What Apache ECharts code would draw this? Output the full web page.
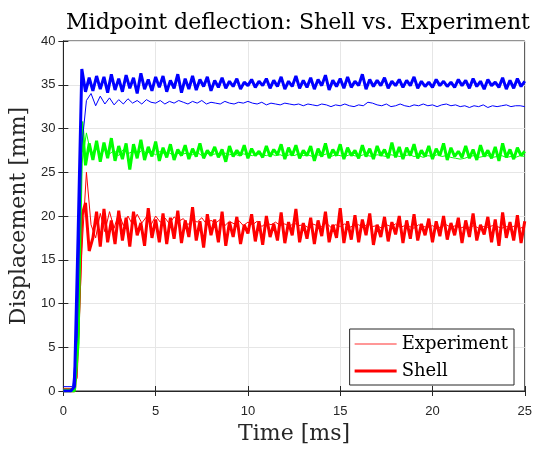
<!DOCTYPE html>
<html>
<head>
<meta charset="utf-8">
<script src="https://cdn.jsdelivr.net/npm/echarts@6/dist/echarts.min.js"></script>
<style>
  html, body { margin: 0; padding: 0; background: #fff; }
  #chart { width: 535px; height: 450px; }
</style>
</head>
<body>
<div id="chart"></div>
<script>
// sample spacing of the traces (ms)
const shellStep = 0.2
const expStep = 0.25

// Shell traces, one value every 0.2 ms from t = 0
const redShell = [0, 0, 0, 0, 7, 20, 21.5, 16, 17.5, 20.5,
  16.5, 20.8, 17, 19.5, 16.8, 20.6, 17.2, 19.8, 16.5, 20.5,
  17.8, 19.2, 16.6, 20.9, 17.5, 19.6, 17.0, 20.3, 16.8, 19.8,
  17.4, 20.6, 16.9, 19.5, 17.6, 21.0, 17.2, 19.4, 16.4, 20.2,
  17.8, 19.6, 17.0, 20.5, 16.6, 19.3, 17.6, 19.9, 16.8, 19.0,
  18.0, 20.2, 17.1, 19.4, 16.7, 20.0, 17.6, 19.1, 17.2, 20.4,
  16.9, 19.3, 17.8, 20.8, 17.0, 19.2, 17.4, 19.8, 16.8, 19.5,
  17.7, 20.5, 17.0, 19.0, 17.5, 20.9, 16.9, 19.4, 17.3, 20.1,
  17.0, 19.6, 17.8, 20.3, 16.7, 19.0, 17.6, 19.9, 17.1, 19.3,
  17.9, 20.0, 16.9, 19.5, 17.4, 20.2, 17.2, 19.1, 17.8, 19.7,
  17.0, 19.4, 17.7, 20.0, 17.3, 19.2, 17.8, 19.8, 16.9, 19.5,
  17.6, 20.3, 17.2, 19.0, 17.9, 19.9, 17.0, 19.6, 16.6, 20.4,
  17.5, 19.3, 17.2, 20.1, 16.9, 19.4]
const greenShell = [0, 0, 0, 0, 5.5, 30.8, 25.8, 28.3, 26.4, 28.6,
  26.2, 28.4, 26.6, 28.9, 26.3, 28.0, 26.5, 28.3, 25.3, 28.2,
  26.6, 28.7, 26.4, 27.9, 26.8, 28.5, 26.3, 27.8, 26.7, 28.2,
  26.4, 27.6, 26.9, 28.1, 26.5, 27.7, 26.8, 28.3, 26.6, 27.5,
  26.9, 27.9, 26.7, 27.6, 26.2, 28.0, 26.8, 27.5, 26.9, 28.1,
  26.6, 27.7, 26.9, 27.4, 26.7, 28.0, 26.8, 27.6, 27.0, 28.2,
  26.5, 27.8, 26.9, 28.1, 26.6, 27.5, 26.9, 28.0, 26.3, 27.7,
  26.8, 28.3, 26.6, 27.6, 26.9, 28.2, 26.5, 27.8, 26.9, 27.5,
  26.6, 28.1, 26.8, 27.7, 26.5, 28.0, 26.9, 27.6, 26.6, 28.4,
  26.7, 27.9, 26.5, 27.8, 26.9, 28.2, 26.6, 27.5, 26.8, 28.0,
  26.5, 27.7, 26.9, 28.3, 26.4, 27.8, 26.8, 27.4, 26.7, 28.0,
  26.6, 27.6, 26.4, 28.1, 26.8, 27.5, 26.6, 27.9, 26.3, 28.3,
  26.7, 27.6, 26.5, 27.8, 26.9, 27.4]
const blueShell = [0, 0, 0, 0.5, 18, 36.8, 34.2, 35.8, 34.3, 36.0,
  34.5, 35.9, 34.1, 36.2, 34.4, 35.7, 34.2, 36.1, 34.6, 35.8,
  34.0, 36.3, 34.5, 35.6, 34.3, 35.9, 34.7, 36.0, 34.2, 35.5,
  34.6, 36.2, 34.1, 35.7, 34.5, 36.0, 34.4, 35.6, 34.8, 35.9,
  34.3, 35.5, 34.7, 35.8, 34.6, 35.4, 34.8, 35.7, 34.5, 35.3,
  34.9, 35.6, 34.7, 35.4, 34.9, 35.7, 34.6, 35.5, 34.8, 35.9,
  34.5, 35.4, 34.8, 36.0, 34.6, 35.5, 34.7, 35.8, 34.5, 35.6,
  34.9, 36.1, 34.4, 35.5, 34.8, 35.7, 34.6, 35.9, 34.7, 35.4,
  34.9, 36.2, 34.5, 35.6, 34.8, 35.5, 34.9, 35.8, 34.6, 35.4,
  34.9, 35.6, 34.7, 35.5, 34.9, 35.9, 34.6, 35.4, 34.8, 35.3,
  34.7, 35.6, 34.9, 35.4, 34.8, 35.3, 34.7, 35.6, 34.9, 35.5,
  34.6, 35.7, 34.8, 35.4, 34.5, 35.6, 34.9, 35.3, 34.7, 35.8,
  34.5, 35.5, 34.6, 35.7, 34.8, 35.4]

// Experiment traces, one value every 0.25 ms from t = 0
const redExp = [0.3, 0.3, 0.3, 1.5, 16, 25.0, 19.0, 17.5, 20.3, 18.2,
  20.5, 18.6, 20.4, 18.9, 20.0, 19.0, 20.2, 19.2, 19.9, 19.0,
  20.0, 19.3, 19.8, 19.1, 19.9, 19.4, 19.7, 19.0, 19.6, 19.3,
  19.8, 19.1, 19.5, 19.2, 19.6, 18.9, 19.4, 19.1, 19.5, 18.9,
  19.3, 19.0, 19.4, 18.8, 19.2, 19.0, 19.3, 18.9, 19.1, 18.8,
  19.2, 18.9, 19.0, 18.7, 19.1, 18.9, 18.8, 19.2, 18.7, 19.0,
  18.8, 19.1, 18.7, 18.9, 19.0, 18.7, 19.1, 18.8, 18.9, 18.6,
  19.0, 18.8, 19.1, 18.7, 18.9, 18.8, 18.6, 19.0, 18.8, 18.7,
  18.9, 18.6, 18.8, 19.0, 18.7, 18.9, 18.6, 18.8, 18.7, 18.9,
  18.6, 18.8, 18.7, 18.9, 18.8, 18.6, 18.8, 18.7, 18.9, 18.6,
  18.8]
const greenExp = [0.2, 0.2, 0.2, 4, 26, 29.5, 27.0, 27.8, 27.0, 27.6,
  27.1, 27.5, 26.9, 27.6, 27.1, 27.4, 27.0, 27.5, 27.2, 27.3,
  27.0, 27.4, 27.1, 27.2, 26.9, 27.3, 27.1, 27.2, 27.0, 27.3,
  26.9, 27.2, 27.0, 27.1, 26.9, 27.2, 27.0, 27.1, 26.9, 27.1,
  27.0, 26.9, 27.1, 27.0, 26.9, 27.1, 26.9, 27.0, 26.8, 27.0,
  26.9, 27.1, 26.9, 27.0, 26.8, 27.0, 26.9, 27.1, 26.8, 27.0,
  26.9, 26.8, 27.0, 26.9, 26.8, 27.0, 26.9, 26.8, 27.0, 26.9,
  26.8, 27.0, 26.9, 26.8, 26.9, 27.0, 26.8, 26.9, 26.7, 26.9,
  26.8, 27.0, 26.8, 26.9, 26.7, 26.6, 26.5, 26.6, 26.8, 26.9,
  26.7, 26.8, 26.9, 26.7, 26.8, 26.9, 26.7, 26.8, 26.7, 26.9,
  26.8]
const blueExp = [0.5, 0.5, 0.5, 6, 28, 33.2, 34.0, 32.6, 33.7, 32.8,
  33.5, 32.7, 33.3, 32.8, 33.4, 32.9, 33.2, 32.8, 33.3, 33.0,
  32.9, 33.2, 32.8, 33.1, 32.9, 33.2, 33.0, 32.8, 33.1, 32.9,
  33.2, 32.8, 33.0, 32.9, 32.8, 33.1, 32.9, 32.8, 33.0, 32.9,
  33.1, 32.9, 32.8, 33.0, 32.7, 32.9, 32.8, 32.7, 32.9, 32.8,
  32.7, 32.8, 32.6, 32.8, 32.7, 32.6, 32.8, 32.7, 32.5, 32.7,
  32.6, 32.8, 32.6, 32.5, 32.7, 32.6, 33.0, 32.9, 32.7, 32.6,
  32.8, 32.5, 32.6, 32.8, 32.6, 32.5, 32.7, 32.6, 32.8, 32.6,
  32.7, 32.5, 32.7, 32.8, 32.6, 32.7, 32.5, 32.6, 32.4, 32.6,
  32.5, 32.7, 32.4, 32.6, 32.5, 32.6, 32.7, 32.5, 32.6, 32.6,
  32.5]

const xTicks = [0, 5, 10, 15, 20, 25]
const yTicks = [0, 5, 10, 15, 20, 25, 30, 35, 40]

function pairs (values, step) {
  return values.map((v, i) => [+(i * step).toFixed(2), v])
}

const serif = 'DejaVu Serif'
const axisColor = '#262626'
const chart = echarts.init(document.getElementById('chart'))

function trace (name, color, values, step, width) {
  return {
    name: name,
    type: 'line',
    data: pairs(values, step),
    showSymbol: false,
    symbol: 'none',
    animation: false,
    lineStyle: { color: color, width: width },
    itemStyle: { color: color }
  }
}

// mirrored axis on the top / right: ticks only, like a boxed MATLAB plot
function mirror (position, min, max) {
  return {
    type: 'value',
    position: position,
    min: min, max: max, interval: 5,
    axisLine: { show: true, lineStyle: { color: axisColor } },
    axisTick: { show: true, inside: true, length: 5, lineStyle: { color: axisColor } },
    axisLabel: { show: false },
    splitLine: { show: false }
  }
}

// legend swatches: a 42x10 box with a line in the middle (faint slivers fix the box)
const thinIcon = 'path://M0,0h42v0.01h-42z M0,4.5h42v1h-42z M0,9.99h42v0.01h-42z'
const thickIcon = 'path://M0,0h42v0.01h-42z M0,3.5h42v3h-42z M0,9.99h42v0.01h-42z'

chart.setOption({
  backgroundColor: '#fff',
  title: {
    text: 'Midpoint deflection: Shell vs. Experiment',
    left: 293,
    textAlign: 'center',
    top: 7,
    textStyle: { fontFamily: serif, fontSize: 22, fontWeight: 'normal', color: '#000' }
  },
  grid: {
    left: 63, right: 9, top: 41, bottom: 54,
    show: true, borderColor: axisColor, borderWidth: 1
  },
  legend: {
    data: [
      { name: 'Experiment', icon: thinIcon, itemStyle: { color: '#ff3030', borderWidth: 0 } },
      { name: 'Shell', icon: thickIcon, itemStyle: { color: '#ff0000', borderWidth: 0 } }
    ],
    orient: 'vertical',
    right: 21,
    bottom: 65,
    itemWidth: 42,
    itemHeight: 10,
    itemGap: 9,
    padding: [6, 6, 5, 5],
    backgroundColor: '#fff',
    borderColor: axisColor,
    borderWidth: 1,
    borderRadius: 0,
    textStyle: { fontFamily: serif, fontSize: 18, color: '#000' }
  },
  xAxis: [{
    type: 'value',
    min: 0, max: 25, interval: 5,
    name: 'Time [ms]',
    nameLocation: 'middle',
    nameGap: 32,
    nameTextStyle: { fontFamily: serif, fontSize: 22, color: axisColor },
    axisLine: { show: true, lineStyle: { color: axisColor } },
    axisTick: { show: true, inside: true, length: 5, lineStyle: { color: axisColor } },
    axisLabel: { color: axisColor, fontSize: 13, fontFamily: 'Liberation Sans', margin: 14,
      customValues: xTicks },
    splitLine: { show: true, lineStyle: { color: '#e6e6e6' } }
  }, mirror('top', 0, 25)],
  yAxis: [{
    type: 'value',
    min: 0, max: 40, interval: 5,
    name: 'Displacement [mm]',
    nameLocation: 'middle',
    nameGap: 32,
    nameTextStyle: { fontFamily: serif, fontSize: 22, color: axisColor },
    axisLine: { show: true, lineStyle: { color: axisColor } },
    axisTick: { show: true, inside: true, length: 5, lineStyle: { color: axisColor } },
    axisLabel: { color: axisColor, fontSize: 13, fontFamily: 'Liberation Sans', margin: 8,
      customValues: yTicks },
    splitLine: { show: true, lineStyle: { color: '#e6e6e6' } }
  }, mirror('right', 0, 40)],
  series: [
    trace('Experiment', '#ff0000', redExp, expStep, 1),
    trace('Shell', '#ff0000', redShell, shellStep, 3),
    trace('Experiment green', '#00ff00', greenExp, expStep, 1),
    trace('Shell green', '#00ff00', greenShell, shellStep, 3),
    trace('Experiment blue', '#0000ff', blueExp, expStep, 1),
    trace('Shell blue', '#0000ff', blueShell, shellStep, 3)
  ]
})
</script>
</body>
</html>
